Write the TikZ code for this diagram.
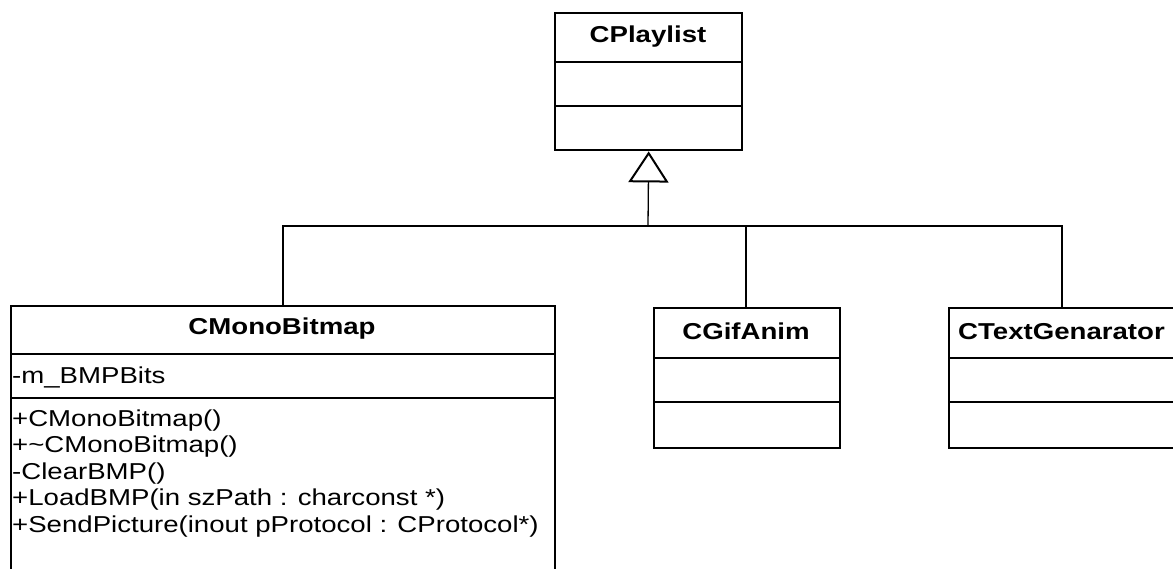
\documentclass[tikz,border=0pt]{standalone}
\usepackage{fontspec}
\setmainfont{Liberation Sans}[FakeStretch=1.2]
\usetikzlibrary{arrows.meta}
\begin{document}
\begin{tikzpicture}[x=1pt,y=-1pt,
  classbox/.style={draw, line width=2.4pt, inner sep=0pt, anchor=north west},
  divider/.style={line width=2.4pt},
  title/.style={font=\fontsize{23}{26}\selectfont\bfseries, inner sep=0pt, anchor=base},
  member/.style={font=\fontsize{23}{26.5}\selectfont, inner sep=0pt, anchor=base west},
  link/.style={line width=1.3pt},
  inherit/.style={line width=1.3pt, -{Triangle[open, length=31pt, width=40pt, line width=2pt]}}
]
\useasboundingbox (0,0) rectangle (1173,569);

% base class
\node[classbox, minimum width=187pt, minimum height=137pt] (cpl) at (554,12) {};
\draw[divider] (554,62) -- (741,62);
\draw[divider] (554,106) -- (741,106);
\node[title] (cplname) at (648,43) {CPlaylist};

% CMonoBitmap
\node[classbox, minimum width=544pt, minimum height=290pt] (mono) at (10,305) {};
\draw[divider] (10,354) -- (554,354);
\draw[divider] (10,398) -- (554,398);
\node[title] (mononame) at (282,335) {CMonoBitmap};
\node[member] (attr) at (12,384) {-m\_BMPBits};
\node[member] (op1) at (12,426) {+CMonoBitmap()};
\node[member] (op2) at (12,452.5) {+\char`\~CMonoBitmap()};
\node[member] (op3) at (12,479) {-ClearBMP()};
\node[member] (op4) at (12,505.5) {+LoadBMP(in szPath : charconst *)};
\node[member] (op5) at (12,532) {+SendPicture(inout pProtocol : CProtocol*)};

% CGifAnim
\node[classbox, minimum width=186pt, minimum height=140pt] (gif) at (653,307) {};
\draw[divider] (653,358) -- (839,358);
\draw[divider] (653,402) -- (839,402);
\node[title] (gifname) at (746,340) {CGifAnim};

% CTextGenarator
\node[classbox, minimum width=232pt, minimum height=140pt] (txt) at (948,307) {};
\draw[divider] (948,358) -- (1180,358);
\draw[divider] (948,402) -- (1180,402);
\node[title, anchor=base west] (txtname) at (958,340) {CTextGenarator};

% generalisation tree
\coordinate (bus) at (648,226);
\coordinate (busL) at (mono.north -| 283,0);
\coordinate (busM) at (gif.north -| 746,0);
\coordinate (busR) at (txt.north -| 1062,0);
\draw[inherit] (bus) -- (cpl.south);
\draw[link] (busL) |- (bus) -| (busR);
\draw[link] (busM) -- (busM |- bus);
\end{tikzpicture}
\end{document}
